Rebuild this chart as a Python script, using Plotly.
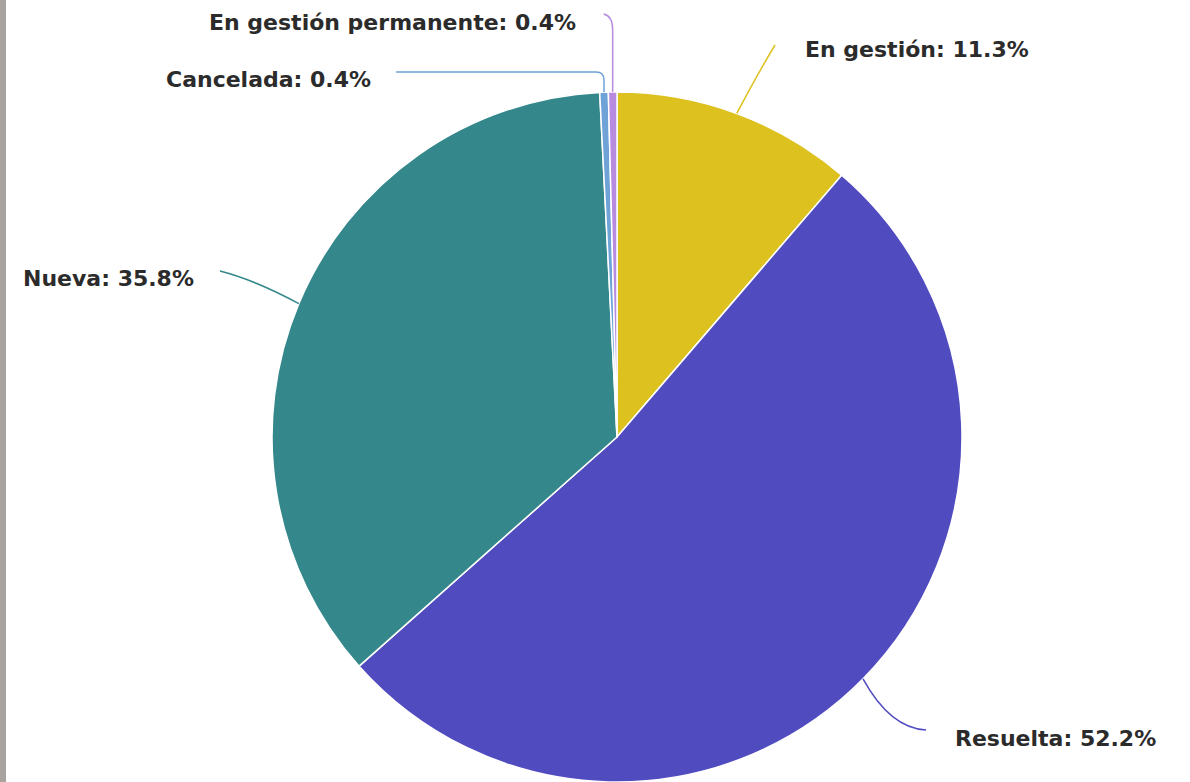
import math
import plotly.graph_objects as go

# ---- data ----
labels = ["En gestión", "Resuelta", "Nueva", "Cancelada", "En gestión permanente"]
values = [11.3, 52.2, 35.8, 0.4, 0.4]
colors = ["#dcc11f", "#514bc0", "#34878a", "#6fa3d8", "#b68be0"]

# ---- layout constants (pixels) ----
W, H = 1190, 782
CX, CY, R = 617, 437, 345

def px(x):
    return x / W

def py(y):
    return 1 - y / H

fig = go.Figure(go.Pie(
    labels=labels,
    values=values,
    sort=False,
    direction="clockwise",
    rotation=0,
    marker=dict(colors=colors, line=dict(color="white", width=1.5)),
    textinfo="none",
    hoverinfo="label+value",
    showlegend=False,
    domain=dict(x=[px(CX - R), px(CX + R)], y=[py(CY + R), py(CY - R)]),
))

# rim points of each slice mid-angle computed from data
total = sum(values)
rim = []
acc = 0
for v in values:
    mid = (acc + v / 2) / total * 2 * math.pi
    acc += v
    rim.append((CX + R * math.sin(mid), CY - R * math.cos(mid)))

# label placement (pixel)
label_pos = [
    (803, 50, "left"),
    (953, 738, "left"),
    (196, 278, "right"),
    (373, 80, "right"),
    (578, 22, "right"),
]

def leader(i):
    x0, y0 = rim[i]
    if i == 0:
        return f"M {px(x0)},{py(y0)} Q {px(757)},{py(75)} {px(775)},{py(45)}"
    if i == 1:
        return f"M {px(x0)},{py(y0)} Q {px(890)},{py(728)} {px(926)},{py(730)}"
    if i == 2:
        return f"M {px(x0)},{py(y0)} Q {px(255)},{py(280)} {px(220)},{py(271)}"
    if i == 3:
        return (f"M {px(x0)},{py(y0)} L {px(x0)},{py(80)} "
                f"Q {px(x0)},{py(72)} {px(x0 - 8)},{py(72)} L {px(396)},{py(72)}")
    return (f"M {px(x0)},{py(y0)} L {px(x0)},{py(30)} "
            f"Q {px(x0)},{py(16)} {px(x0 - 9)},{py(14)}")

shapes = []
for i in range(len(values)):
    shapes.append(dict(type="path", xref="paper", yref="paper", path=leader(i),
                       line=dict(color=colors[i], width=1.5)))

# left gray strip
shapes.append(dict(type="rect", xref="paper", yref="paper", x0=0, x1=px(6), y0=0, y1=1,
                   fillcolor="#a9a39f", line=dict(width=0), layer="below"))

annotations = []
for i, (lab, val) in enumerate(zip(labels, values)):
    x, y, anc = label_pos[i]
    annotations.append(dict(
        x=px(x), y=py(y), xref="paper", yref="paper",
        text=f"{lab}: {val}%", showarrow=False,
        xanchor=anc, yanchor="middle",
        font=dict(family="DejaVu Sans", size=22, color="#2b2b2b", weight="bold"),
    ))

fig.update_layout(
    width=W, height=H,
    margin=dict(l=0, r=0, t=0, b=0),
    paper_bgcolor="white",
    plot_bgcolor="white",
    shapes=shapes,
    annotations=annotations,
)

fig.write_html("out.html", config={"displayModeBar": False},
               post_script="document.body.style.margin='0';")
